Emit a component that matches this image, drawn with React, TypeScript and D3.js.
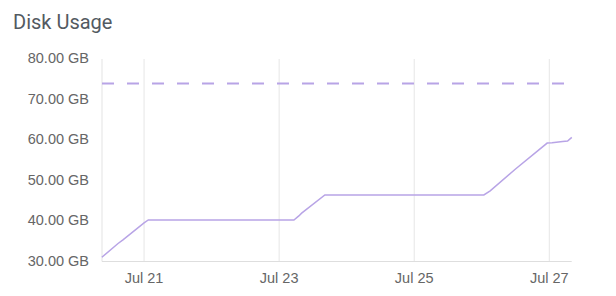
import React from "react";
import * as d3 from "d3";

const times: string[] = [
  "2023-07-20T09:00", "2023-07-20T14:45", "2023-07-20T16:30", "2023-07-21T00:00",
  "2023-07-21T01:30", "2023-07-23T05:15", "2023-07-23T07:00", "2023-07-23T08:00",
  "2023-07-23T16:15", "2023-07-26T00:45", "2023-07-26T03:00", "2023-07-26T12:00",
  "2023-07-26T23:15", "2023-07-27T01:00", "2023-07-27T04:45", "2023-07-27T06:30",
  "2023-07-27T08:00",
];
const usedGB: number[] = [
  30.8, 34.2, 35.1, 39.3,
  40.0, 40.0, 41.0, 41.7,
  46.2, 46.2, 47.2, 52.6,
  59.0, 59.1, 59.4, 59.5,
  60.4,
];
const capacityGB = 73.7;
const yTicks: number[] = [30, 40, 50, 60, 70, 80];
const xTickDates: string[] = ["2023-07-21T00:00", "2023-07-23T00:00", "2023-07-25T00:00", "2023-07-27T00:00"];
const xDomain: string[] = ["2023-07-20T09:03", "2023-07-27T07:58"];
const title = "Disk Usage";

export default function App() {
  const W = 616, H = 296;
  const left = 102, right = 571.7, top = 58, bottom = 260.5;
  const x = d3.scaleTime().domain(xDomain.map((s) => new Date(s))).range([left, right]);
  const y = d3.scaleLinear().domain([30, 80]).range([bottom, top]);
  const pts = times.map((t, i) => [new Date(t), usedGB[i]] as [Date, number]);
  const line = d3.line<[Date, number]>().x((d) => x(d[0])).y((d) => y(d[1]));
  const fmtY = (v: number) => d3.format(".2f")(v) + " GB";
  const fmtX = d3.timeFormat("%b %-d");
  const color = "#b8a4e6";
  const tickFont = "'Liberation Sans', Arial, sans-serif";
  return (
    <svg width={W} height={H} style={{ position: "absolute", left: 0, top: 0, background: "#fff" }}>
      <text x={13} y={29} fontFamily="Roboto, sans-serif" fontSize={20} fill="#535a61">{title}</text>
      {xTickDates.map((s) => {
        const d = new Date(s);
        return (
          <g key={s}>
            <line x1={x(d)} x2={x(d)} y1={top + 1} y2={bottom + 1} stroke="#e6e6e6" strokeWidth={1} />
            <text x={x(d)} y={283} textAnchor="middle" fontFamily={tickFont} fontSize={14.5} fill="#666">{fmtX(d)}</text>
          </g>
        );
      })}
      <line x1={left} x2={left} y1={top + 1} y2={bottom + 1} stroke="#e3e3e3" />
      <line x1={left} x2={right} y1={bottom + 1} y2={bottom + 1} stroke="#dedede" />
      {yTicks.map((v) => (
        <text key={v} x={89} y={y(v)} dy="0.35em" textAnchor="end" fontFamily={tickFont} fontSize={14.5} fill="#666">{fmtY(v)}</text>
      ))}
      <line x1={left} x2={right} y1={y(capacityGB)} y2={y(capacityGB)} stroke={color} strokeWidth={2} strokeDasharray="12 13" />
      <path d={line(pts) || ""} fill="none" stroke={color} strokeWidth={1.5} />
    </svg>
  );
}
